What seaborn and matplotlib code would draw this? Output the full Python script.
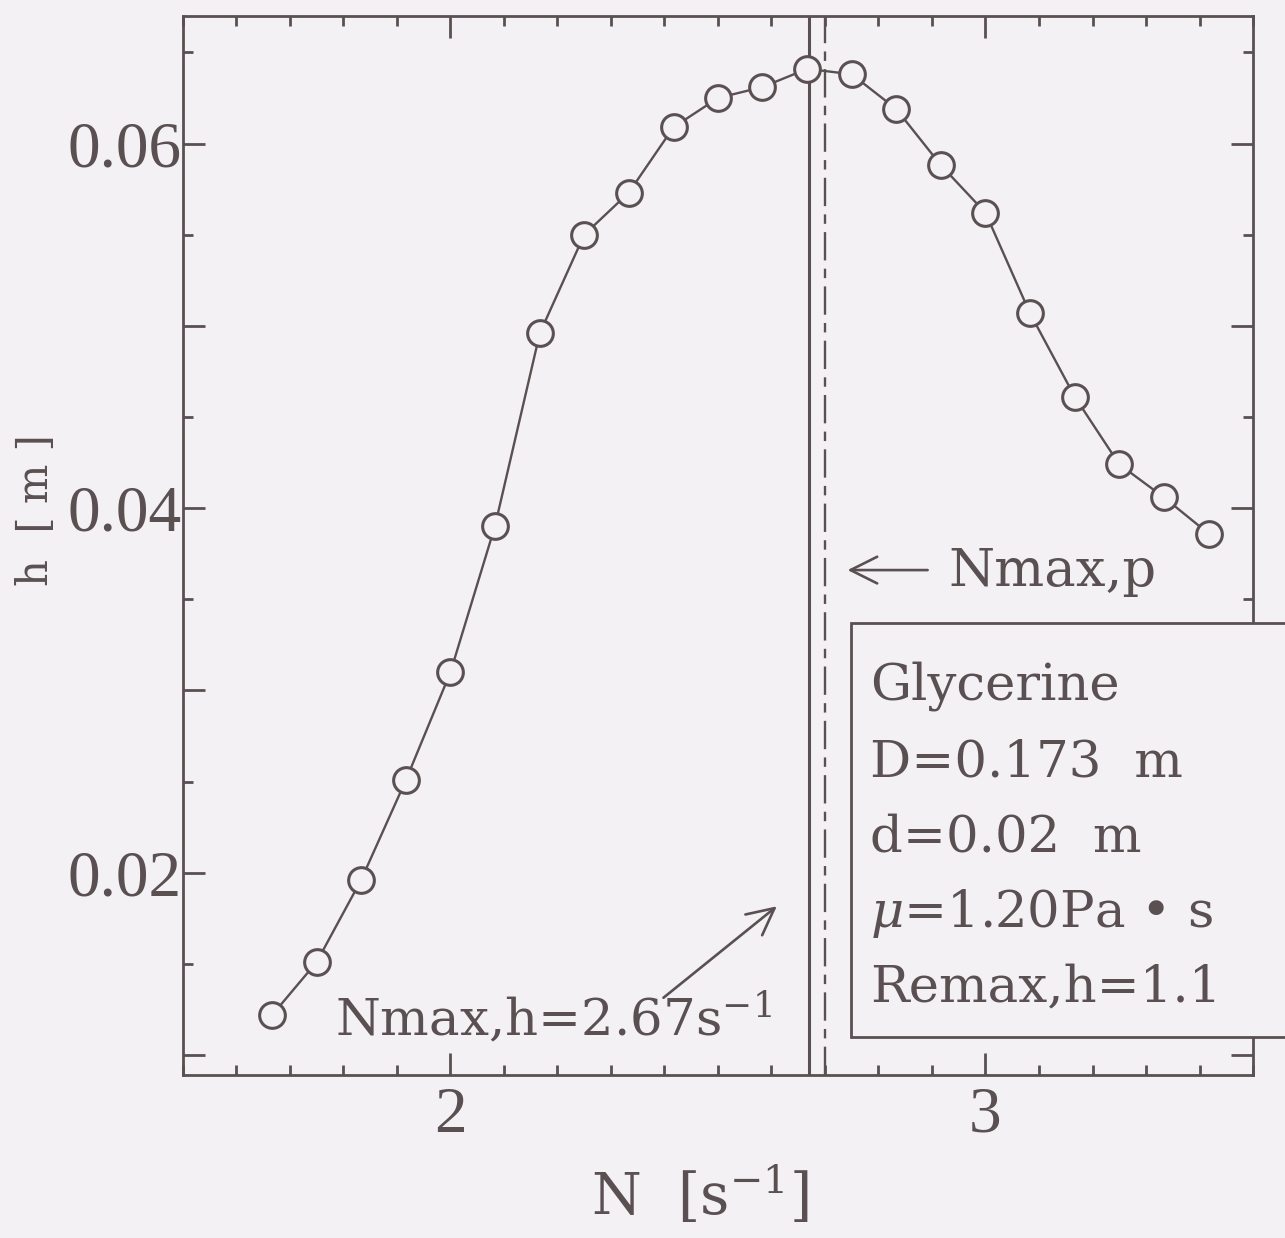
import matplotlib
matplotlib.use("Agg")
import matplotlib.pyplot as plt
import matplotlib.ticker as mticker
from matplotlib.patches import Rectangle
import seaborn as sns
import pandas as pd

# Rotational speed N [1/s] and liquid rise height h [m]
speed_n = [1.667, 1.750, 1.833, 1.917, 2.000, 2.083, 2.167, 2.250, 2.333, 2.417, 2.500,
           2.583, 2.667, 2.750, 2.833, 2.917, 3.000, 3.083, 3.167, 3.250, 3.333, 3.417]
height_h = [0.0122, 0.0151, 0.0196, 0.0251, 0.0310, 0.0390, 0.0496, 0.0550, 0.0573, 0.0609, 0.0625,
            0.0631, 0.0641, 0.0638, 0.0619, 0.0588, 0.0562, 0.0507, 0.0461, 0.0424, 0.0406, 0.0386]

n_max_h = 2.67   # speed at maximum height
n_max_p = 2.70   # speed at maximum power

x_ticks = [2, 3]
y_ticks = [0.01, 0.02, 0.03, 0.04, 0.05, 0.06]
y_ticklabels = ["", "0.02", "", "0.04", "", "0.06"]

info_lines = ["Glycerine", "D=0.173  m", "d=0.02  m",
              r"$\mu$=1.20Pa • s", "Remax,h=1.1"]

ink = "#5a5052"
paper = "#f3f1f4"

sns.set_theme(style="ticks")
plt.rcParams["font.family"] = ["DejaVu Serif"]
plt.rcParams["mathtext.fontset"] = "dejavuserif"
plt.rcParams["text.color"] = ink
plt.rcParams["axes.edgecolor"] = ink
plt.rcParams["xtick.color"] = ink
plt.rcParams["ytick.color"] = ink

df = pd.DataFrame({"N": speed_n, "h": height_h})

fig = plt.figure(figsize=(12.85, 12.38), dpi=100, facecolor=paper)
ax = fig.add_axes([0.1424, 0.1317, 0.8327, 0.8554])
ax.set_facecolor(paper)

ax.axvline(n_max_h, color=ink, lw=2.2, zorder=2)
ax.axvline(n_max_p, color=ink, lw=1.7, linestyle=(0, (12, 3.5, 4, 3.5)), zorder=2)

sns.lineplot(data=df, x="N", y="h", ax=ax, color=ink, linewidth=1.7,
             marker="o", markersize=18.5, markerfacecolor=paper,
             markeredgecolor=ink, markeredgewidth=2.2, zorder=4)

ax.set_xlim(1.5, 3.5)
ax.set_ylim(0.0089, 0.0670)

ax.xaxis.set_major_locator(mticker.FixedLocator(x_ticks))
ax.xaxis.set_minor_locator(mticker.MultipleLocator(0.1))
ax.yaxis.set_major_locator(mticker.FixedLocator(y_ticks))
ax.yaxis.set_major_formatter(mticker.FixedFormatter(y_ticklabels))
ax.yaxis.set_minor_locator(mticker.MultipleLocator(0.005))

ax.tick_params(which="both", direction="in", top=True, right=True, width=2.0, colors=ink)
ax.tick_params(which="major", length=16)
ax.tick_params(which="minor", length=7)
ax.tick_params(axis="y", which="major", pad=1)
ax.tick_params(axis="x", which="major", pad=8)
for lab in ax.get_xticklabels() + ax.get_yticklabels():
    lab.set_fontfamily("Liberation Serif")
    lab.set_fontsize(47)

for sp in ax.spines.values():
    sp.set_linewidth(2.0)
    sp.set_color(ink)

ax.set_xlabel("")
ax.set_ylabel("")
fig.text(700 / 1285, 1 - 1195 / 1238, r"N  [s$^{-1}$]", fontsize=41,
         ha="center", va="center")
fig.text(36 / 1285, 1 - 510 / 1238, "h  [ m ]", fontsize=30,
         rotation=90, ha="center", va="center")

# Marker for the speed at maximum power
ax.annotate("", xy=(2.737, 0.0366), xytext=(2.897, 0.0366),
            arrowprops=dict(arrowstyle="->,head_length=0.8,head_width=0.4",
                            lw=1.9, color=ink, mutation_scale=24))
ax.text(2.931, 0.0357, "Nmax,p", fontsize=38, ha="left", va="baseline")

# Marker for the speed at maximum height
ax.annotate("", xy=(2.614, 0.01825), xytext=(2.394, 0.01304),
            arrowprops=dict(arrowstyle="->,head_length=0.8,head_width=0.4",
                            lw=1.9, color=ink, mutation_scale=24))
ax.text(1.784, 0.0111, r"Nmax,h=2.67s$^{-1}$", fontsize=37, ha="left", va="baseline")

# Condition box
box = Rectangle((2.748, 0.01096), 1.0, 0.0337 - 0.01096, transform=ax.transData,
                facecolor=paper, edgecolor=ink, lw=2.0, clip_on=False, zorder=6)
ax.add_patch(box)
baselines = [0.02948, 0.02526, 0.02115, 0.01699, 0.01293]
for txt, yb in zip(info_lines, baselines):
    ax.text(2.785, yb, txt, fontsize=37, ha="left", va="baseline", zorder=7)

fig.savefig("out.png", dpi=100, facecolor=paper)
